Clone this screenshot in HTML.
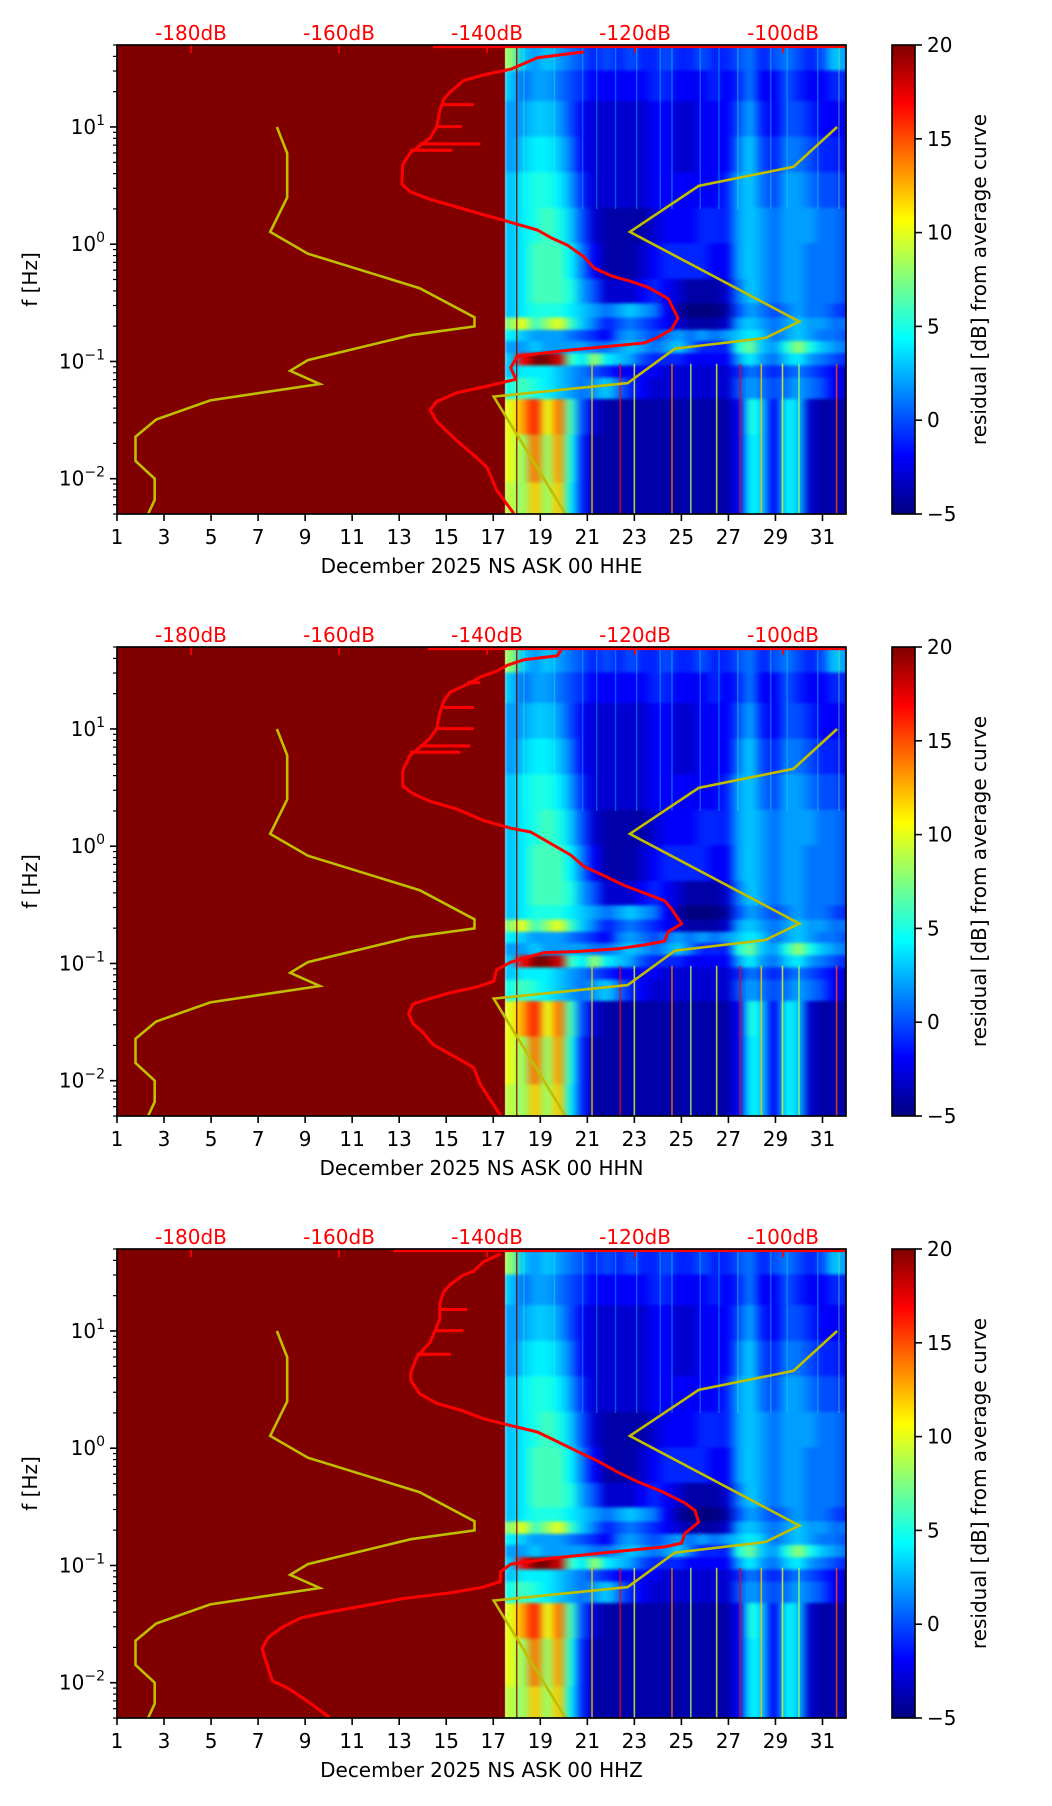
<!DOCTYPE html>
<html><head><meta charset="utf-8"><style>
html,body{margin:0;padding:0;background:#fff;}
#wrap{position:relative;width:1052px;height:1806px;}
#heat{position:absolute;left:0;top:0;}
#fig{position:absolute;left:0;top:0;display:block;font-family:"DejaVu Sans","Liberation Sans",sans-serif;}
</style></head><body>
<div id="wrap">
<canvas id="heat" width="1052" height="1806"></canvas>
<svg id="fig" width="1052" height="1806" viewBox="0 0 1052 1806" xmlns="http://www.w3.org/2000/svg">
<defs>
<linearGradient id="jetgrad" x1="0" y1="1" x2="0" y2="0">
<stop offset="0" stop-color="#000080"/><stop offset="0.125" stop-color="#0000ff"/><stop offset="0.375" stop-color="#00ffff"/><stop offset="0.625" stop-color="#ffff00"/><stop offset="0.875" stop-color="#ff0000"/><stop offset="1" stop-color="#800000"/>
</linearGradient>
</defs>
</svg>
</div>
<script>
// ---- data ----
const panelNames = ['HHE','HHN','HHZ'];
const colDays = [17.5,18,18.5,19,19.5,20,20.5,21,21.5,22,22.5,23,23.5,24,24.5,25,25.5,26,26.5,27,27.5,28,28.5,29,29.5,30,30.5,31,31.5];
const bandEdgesLog = [1.7,1.45,1.2,0.9,0.6,0.3,0.0,-0.3,-0.5,-0.62,-0.72,-0.82,-0.92,-1.02,-1.12,-1.3,-1.6,-2.0,-2.31];
const resid = [
[8,3,2,3,2,1,0,-1,0,-1,0,-1,-1,0,-1,-1,0,-1,-1,0,1,-1,0,1,0,-1,0,3,2],
[3,1,2,2,1,0,-1,-2,-2,-2,-2,-2,-1,-1,-2,-2,-2,-1,-2,-1,1,-2,-2,0,-1,-2,-2,-1,-1],
[2,2,3,3,2,0,-2,-3,-3,-3,-3,-3,-2,-2,-3,-3,-2,-2,-2,0,2,-1,-2,0,0,-1,-2,-2,-2],
[2,3,4,4,3,1,-2,-3,-3,-3,-3,-3,-2,-2,-3,-3,-2,-2,-2,1,3,0,-1,1,1,0,-1,-1,-2],
[3,4,5,5,4,2,-1,-3,-3,-3,-3,-3,-2,-2,-2,-2,-2,-2,-1,2,3,1,0,2,2,1,0,0,-1],
[3,4,5,6,5,3,0,-3,-4,-4,-4,-4,-3,-2,-2,-2,-1,-1,-1,2,3,2,1,2,2,2,1,1,0],
[3,4,6,6,6,4,1,-2,-4,-4,-4,-3,-2,-1,-1,-1,-1,-2,-2,2,3,2,1,2,2,1,1,1,0],
[3,4,6,6,6,5,2,0,-3,-3,-3,-2,-1,-2,-3,-4,-4,-4,-3,1,3,2,1,2,2,1,1,1,0],
[3,4,5,5,5,4,3,2,1,2,3,2,1,-2,-4,-5,-5,-5,-4,0,2,1,0,1,2,1,1,0,-1],
[8,10,6,8,10,6,3,1,-1,0,1,0,-1,-2,-3,-4,-4,-4,-3,2,3,2,1,2,3,2,2,1,1],
[4,3,2,2,2,1,0,-1,-2,1,2,1,0,1,2,1,2,1,2,3,4,3,1,2,3,2,1,1,0],
[2,2,3,2,2,2,2,1,1,2,3,2,1,2,3,1,-1,-1,-1,5,7,3,2,5,8,5,3,2,1],
[3,17,20,20,18,6,4,8,4,3,2,0,-1,-1,-1,-2,-2,-2,-2,2,4,2,1,3,4,2,1,0,-1],
[3,4,4,4,3,2,1,0,-1,-2,-2,-2,-2,-3,-3,-3,-3,-3,-3,-1,1,0,-1,0,1,0,-1,-2,-3],
[5,6,5,4,3,2,1,2,3,1,-1,-2,-3,-3,-3,-3,-3,-3,-3,0,2,1,0,1,2,1,0,-2,-3],
[10,13,16,10,14,6,0,-3,-4,-4,-4,-4,-4,-4,-4,-4,-4,-4,-4,-2,5,3,-2,4,3,-3,-4,-4,-4],
[10,8,14,8,13,5,-1,-4,-4,-4,-4,-4,-4,-4,-4,-4,-4,-4,-4,-2,4,3,-2,4,3,-3,-4,-4,-4],
[9,8,12,8,12,4,-1,-4,-4,-4,-4,-4,-4,-4,-4,-4,-4,-4,-4,-2,4,3,-2,4,3,-3,-4,-4,-4]
];
const upperStreakDays = [18.3,19.6,20.8,21.4,22.2,23.1,24.1,24.6,25.8,26.6,27.4,28.8,29.5,30.8,31.7];
const upperStreakVals = [6,5,4,4,4,5,4,5,4,4,6,5,4,5,8];
const lowStreakDays = [21.2,22.4,23.0,24.6,25.4,26.5,27.5,28.4,29.3,30.0,31.6];
const lowStreakVals = [12,17,10,14,8,10,17,12,10,8,15];
const nlnmDb = [-168.4,-167.0,-167.0,-169.3,-164.2,-149.1,-141.7,-141.7,-150.3,-164.2,-166.6,-162.6,-177.4,-184.7,-187.5,-187.5,-184.9,-184.9,-185.8];
const nlnmLog = [1.0,0.775,0.399,0.105,-0.081,-0.375,-0.623,-0.701,-0.776,-0.988,-1.080,-1.192,-1.332,-1.495,-1.642,-1.848,-2.0,-2.18,-2.301];
const nhnmDb = [-92.7,-98.6,-111.4,-120.7,-97.8,-102.4,-114.6,-121.0,-139.1,-129.4];
const nhnmLog = [1.0,0.66,0.497,0.105,-0.66,-0.80,-0.89,-1.185,-1.30,-2.301];
const redDb1 = [-126.9,-133.2,-136.8,-140.5,-143.2,-145.0,-145.9,-146.4,-146.8,-147.7,-149.1,-150.4,-151.4,-151.5,-150.4,-147.7,-144.1,-140.5,-137.7,-135.0,-133.2,-131.4,-129.1,-126.9,-125.5,-123.2,-120.5,-118.2,-115.5,-114.2,-115.1,-116.9,-118.7,-124.1,-129.6,-135.9,-136.8,-136.1,-140.5,-144.1,-146.8,-147.7,-146.8,-144.1,-141.4,-140.0,-138.7,-136.4];
const redLog1 = [1.640,1.591,1.493,1.444,1.395,1.297,1.232,1.134,1.003,0.905,0.840,0.775,0.677,0.513,0.448,0.383,0.317,0.252,0.203,0.154,0.121,0.056,-0.009,-0.107,-0.205,-0.270,-0.319,-0.368,-0.466,-0.630,-0.728,-0.793,-0.842,-0.875,-0.907,-0.956,-1.054,-1.152,-1.218,-1.267,-1.342,-1.413,-1.512,-1.675,-1.822,-1.903,-2.099,-2.295];
const redDb2 = [-130.0,-130.5,-135.0,-137.3,-138.7,-140.9,-142.7,-145.0,-145.9,-146.4,-146.8,-147.7,-149.1,-150.4,-151.4,-151.4,-150.0,-147.7,-144.1,-140.5,-136.8,-134.1,-131.4,-128.7,-126.9,-124.1,-121.4,-118.7,-116.0,-115.1,-113.7,-115.5,-116.0,-118.7,-122.3,-127.8,-132.3,-136.8,-138.7,-139.1,-141.4,-145.0,-147.7,-150.0,-150.6,-150.0,-148.6,-147.3,-144.1,-141.8,-140.9,-138.2];
const redLog2 = [1.673,1.624,1.591,1.542,1.493,1.444,1.379,1.314,1.232,1.134,1.003,0.922,0.840,0.775,0.644,0.513,0.448,0.383,0.317,0.219,0.154,0.121,0.023,-0.075,-0.173,-0.254,-0.336,-0.401,-0.466,-0.532,-0.662,-0.728,-0.809,-0.842,-0.875,-0.898,-0.907,-0.989,-1.054,-1.152,-1.201,-1.250,-1.299,-1.346,-1.430,-1.512,-1.593,-1.691,-1.805,-1.887,-2.034,-2.295];
const redDb3 = [-138.2,-140.5,-141.8,-143.2,-145.0,-145.9,-146.4,-146.4,-147.0,-147.7,-148.6,-149.5,-150.3,-150.3,-149.1,-146.8,-143.2,-140.5,-136.8,-133.2,-130.5,-127.8,-125.1,-122.3,-119.6,-116.4,-113.3,-111.9,-111.4,-113.3,-113.7,-116.0,-118.7,-124.1,-131.4,-136.8,-138.2,-138.2,-140.5,-145.0,-151.4,-156.8,-161.3,-165.0,-167.7,-169.5,-170.4,-169.95,-169.0,-166.8,-164.1,-161.3];
const redLog3 = [1.656,1.591,1.510,1.477,1.395,1.330,1.232,1.101,1.003,0.905,0.840,0.775,0.644,0.579,0.464,0.383,0.317,0.252,0.193,0.138,0.056,-0.026,-0.107,-0.205,-0.287,-0.368,-0.466,-0.532,-0.630,-0.728,-0.809,-0.842,-0.858,-0.891,-0.940,-0.989,-1.054,-1.136,-1.185,-1.234,-1.283,-1.346,-1.397,-1.444,-1.528,-1.610,-1.708,-1.805,-1.985,-2.050,-2.165,-2.295];
const redTopStartDb = [-147.3,-148.0,-152.7];
const spikeLog1 = [1.190,1.003,0.856,0.801], spikeDb1 = [-141.8,-143.4,-140.9,-144.7];
const spikeLog2 = [1.395,1.183,1.003,0.856,0.801], spikeDb2 = [-140.9,-141.8,-141.8,-142.3,-143.6];
const spikeLog3 = [1.183,1.003,0.801], spikeDb3 = [-142.7,-143.2,-144.9];
const dayTicks = [1,3,5,7,9,11,13,15,17,19,21,23,25,27,29,31];
const dbTicks = [-180,-160,-140,-120,-100];
const cbTicks = [20,15,10,5,0,-5];
const redSets = [[redDb1,redLog1,spikeDb1,spikeLog1],[redDb2,redLog2,spikeDb2,spikeLog2],[redDb3,redLog3,spikeDb3,spikeLog3]];

// ---- geometry ----
const L=117,R=846,TOP=45,H=469,PANEL_DY=602;
const LOGMAX=1.699,LOGMIN=-2.301,DBMIN=-190,DBMAX=-91.5,CBX=892,CBW=23;
const SPEC_START=17.5,SPEC_END=32;
const xDay=d=>L+(d-1)*(R-L)/31;
const xDb=db=>L+(db-DBMIN)*(R-L)/(DBMAX-DBMIN);
const clampLog=l=>Math.max(LOGMIN,Math.min(LOGMAX,l));
function jet(v){const t=Math.max(0,Math.min(1,(v+5)/25));const f=x=>Math.round(255*Math.max(0,Math.min(1,x)));
 return `rgb(${f(1.5-Math.abs(4*t-3))},${f(1.5-Math.abs(4*t-2))},${f(1.5-Math.abs(4*t-1))})`;}
const NS='http://www.w3.org/2000/svg';
const svg=document.getElementById('fig');
function mk(tag,attrs,parent){const e=document.createElementNS(NS,tag);for(const k in attrs)e.setAttribute(k,attrs[k]);(parent||svg).appendChild(e);return e;}
const ctx=document.getElementById('heat').getContext('2d');

panelNames.forEach((pn,p)=>{
 const oy=p*PANEL_DY;
 const yLog=l=>oy+TOP+(LOGMAX-l)*H/(LOGMAX-LOGMIN);
 // ---- canvas heatmap: small image upscaled with smoothing ----
 const nC=colDays.length,nR=resid.length;
 const small=document.createElement('canvas');small.width=nC;small.height=H;
 const sc=small.getContext('2d');
 for(let yy=0;yy<H;yy++){
  const l=LOGMAX-(yy+0.5)*(LOGMAX-LOGMIN)/H;
  let r=0;while(r<nR-1&&l<bandEdgesLog[r+1])r++;
  for(let ci=0;ci<nC;ci++){sc.fillStyle=jet(resid[r][ci]);sc.fillRect(ci,yy,1,1);}
 }
 ctx.save();
 ctx.beginPath();ctx.rect(L,oy+TOP,R-L,H);ctx.clip();
 ctx.imageSmoothingEnabled=true;
 ctx.imageSmoothingQuality='high';
 ctx.filter='blur(1.5px)';
 const x0=xDay(SPEC_START),x1=xDay(SPEC_END);
 ctx.drawImage(small,0,0,nC,H,x0,oy+TOP-4,x1-x0+6,H+8);
 ctx.filter='none';
 ctx.fillStyle=jet(20);
 ctx.fillRect(L,oy+TOP,xDay(SPEC_START)-L,H);
 ctx.restore();

 const g=mk('g',{});
 
 
 const cp=mk('clipPath',{id:'clip'+p},g);
 mk('rect',{x:L,y:oy+TOP,width:R-L,height:H},cp);
 const plot=mk('g',{'clip-path':`url(#clip${p})`},g);
 upperStreakDays.forEach((d,i)=>{
  const s=mk('line',{x1:xDay(d),x2:xDay(d),y1:yLog(LOGMAX),y2:yLog(0.3),stroke:jet(upperStreakVals[i]),'stroke-width':1.5,opacity:0.35},plot);
  
  
 });
 lowStreakDays.forEach((d,i)=>{
  const s=mk('line',{x1:xDay(d),x2:xDay(d),y1:yLog(-1.02),y2:yLog(LOGMIN),stroke:jet(lowStreakVals[i]),'stroke-width':1.6,opacity:0.8},plot);
  
  
 });
 const vl=mk('line',{x1:xDay(18),x2:xDay(18),y1:oy+TOP,y2:oy+TOP+H,stroke:'#800000','stroke-width':1.2},plot);
 
 
 const path=(dbs,logs)=>dbs.map((v,i)=>(i?'L':'M')+xDb(v).toFixed(1)+','+yLog(clampLog(logs[i])).toFixed(1)).join('');
 const nl=mk('path',{d:path(nlnmDb,nlnmLog),fill:'none',stroke:'#bfbf00','stroke-width':2.6},plot);
 
 
 const nh=mk('path',{d:path(nhnmDb,nhnmLog),fill:'none',stroke:'#bfbf00','stroke-width':2.6},plot);
 
 
 const [rdb,rlg,sdb,slg]=redSets[p];
 const rc=mk('path',{d:path(rdb,rlg),fill:'none',stroke:'#ff0000','stroke-width':3,'stroke-linejoin':'round'},plot);
 
 
 const tl=mk('line',{x1:xDb(redTopStartDb[p]),x2:R,y1:yLog(1.685),y2:yLog(1.685),stroke:'#ff0000','stroke-width':3},plot);
 
 
 slg.forEach((l,i)=>{
  let best=0,bd=1e9;rlg.forEach((q,j)=>{const dd=Math.abs(q-l);if(dd<bd){bd=dd;best=j;}});
  const sp=mk('line',{x1:xDb(rdb[best]),x2:xDb(sdb[i]),y1:yLog(l),y2:yLog(l),stroke:'#ff0000','stroke-width':3},plot);
  
  
 });
 dbTicks.forEach(db=>{
  const x=xDb(db);
  const t=mk('line',{x1:x,x2:x,y1:oy+TOP,y2:oy+TOP+8,stroke:'#ff0000','stroke-width':1.7},g);
  
  
  const tx=mk('text',{x:x,y:oy+TOP-5,'text-anchor':'middle','font-size':20,fill:'#ff0000'},g);
  tx.textContent=db+'dB';
  
  
 });
 const fr=mk('rect',{x:L,y:oy+TOP,width:R-L,height:H,fill:'none',stroke:'#000','stroke-width':1.7},g);
 
 
 dayTicks.forEach(d=>{
  const x=xDay(d);
  mk('line',{x1:x,x2:x,y1:oy+TOP+H,y2:oy+TOP+H+7,stroke:'#000','stroke-width':1.6},g);
  const tx=mk('text',{x:x,y:oy+TOP+H+30,'text-anchor':'middle','font-size':20,fill:'#000'},g);
  tx.textContent=d;
  
  
 });
 const xl=mk('text',{x:(L+R)/2,y:oy+573,'text-anchor':'middle','font-size':20,fill:'#000'},g);
 xl.textContent='December 2025 NS ASK 00 '+pn;
 
 
 for(let k=-3;k<=1;k++){
  for(let m=1;m<=9;m++){
   const l=k+Math.log10(m);
   if(l<LOGMIN-0.001||l>LOGMAX+0.001)continue;
   const y=yLog(l);
   mk('line',{x1:L-(m===1?7:4),x2:L,y1:y,y2:y,stroke:'#000','stroke-width':m===1?1.6:1.2},g);
   if(m===1){
    const tx=mk('text',{x:L-12,y:y+7,'text-anchor':'end','font-size':20,fill:'#000'},g);
    tx.innerHTML='10<tspan dy="-9" font-size="14">'+(k<0?'\u2212'+(-k):k)+'</tspan>';
    
    
   }
  }
 }
 const yl=mk('text',{x:0,y:0,transform:`translate(37,${oy+TOP+H/2}) rotate(-90)`,'text-anchor':'middle','font-size':20,fill:'#000'},g);
 yl.textContent='f [Hz]';
 
 
 const cb=mk('rect',{x:CBX,y:oy+TOP,width:CBW,height:H,fill:'url(#jetgrad)',stroke:'#000','stroke-width':1.6},g);
 
 
 cbTicks.forEach(v=>{
  const y=oy+TOP+(20-v)*H/25;
  mk('line',{x1:CBX+CBW,x2:CBX+CBW+7,y1:y,y2:y,stroke:'#000','stroke-width':1.6},g);
  const tx=mk('text',{x:CBX+CBW+12,y:y+7,'font-size':20,fill:'#000'},g);
  tx.textContent=v<0?'\u2212'+(-v):v;
  
  
 });
 const cl=mk('text',{x:0,y:0,transform:`translate(986,${oy+TOP+H/2}) rotate(-90)`,'text-anchor':'middle','font-size':20,fill:'#000'},g);
 cl.textContent='residual [dB] from average curve';
 
 
});
</script>
</body></html>
